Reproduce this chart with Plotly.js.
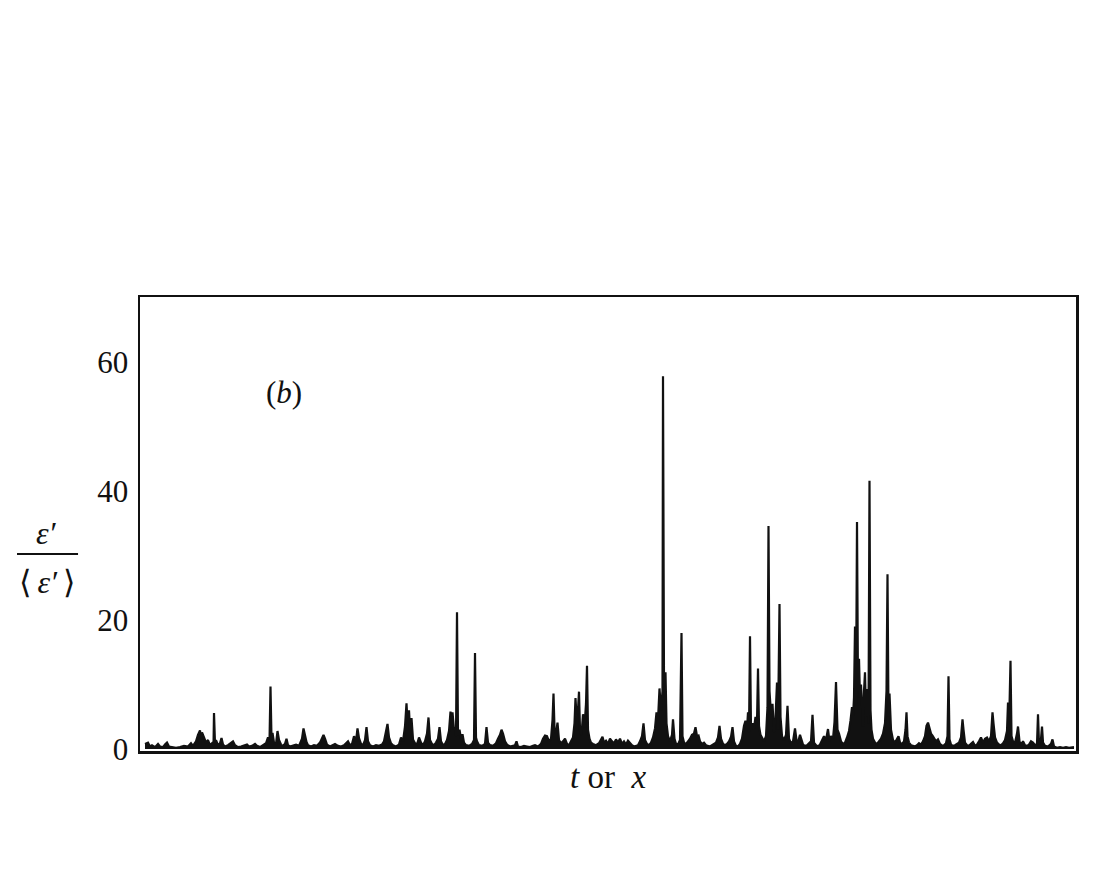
<!DOCTYPE html>
<html>
<head>
<meta charset="utf-8">
<script src="https://cdn.plot.ly/plotly-3.0.1.min.js"></script>
<style>html,body{margin:0;padding:0;background:#fff;}</style>
</head>
<body>
<div id="chart" style="width:1099px;height:880px;"></div>
<script>
// Position along the record (arbitrary units of t or x)
const tPos = [
145,148,150,152,155,158,160,163,165,167,169,172,176,180,184,188,191,193,196,198,200,201,202,204,206,208,210,212,213.5,214,215,216,218,220,221.5,223,225,228,231,233,235,238,241,244,247,249,252,255,257,260,263,266,268,269.5,270.5,271.5,272.5,274,276,277.5,279,281,283,285,286.5,288,290,293,296,299,
300,302,303.5,305,306.5,308,311,314,317,320,322,323.5,325,327,330,333,335,338,341,344,346,348,350,352,354,356,357.5,359,361,363,365,366.5,368,370,373,376,379,382,384,386,387.5,389,391,393,396,399,401,403,405,406.5,407.5,409,410,411.5,413,415,417,419,421,423,425,427,428.5,430,432,434,436,438,439.5,441,443,445,447,449,450.5,451.5,452.5,454,455,
456,457,458,459.5,461,462.5,464,466,469,472,474,475,476,477,479,482,485,486.5,488,490,493,496,498,500,501.5,503,505,507,510,513,515,516.5,518,521,524,527,530,533,535,538,541,543,545,547,549,551,552.5,553.5,554.5,556,557.5,559,561,563,565,567,569,571,573,574.5,575.5,576.5,578,579,580,581.5,583,584.5,586,587,588,589.5,591,593,596,599,601,602.5,604,
606,608,610,612,614,616,618,620,622,624,626,628,630,632,634,636,638,640,642,643.5,645,647,649,651,653,655,656.5,658,659.5,661,662.5,663,664,665.5,666.5,668,670,672,673,674.5,676,678,680,681.5,682.5,684,686,688,690,692,694,695.5,697,698.5,700,702,704,706,708,710,712,714,716,718,719.5,721,723,725,727,729,731,732.5,734,736,738,740,742,744,745.5,747,748,749,750,751,752.5,754,755.5,757,758,759,
760.5,762,764,766,767.5,768.5,769.5,771,772.5,774,775.5,777,778,779.5,780.5,782,784,786,787.5,789,791,793,795,796.5,798,800,801.5,803,805,807,809,811,812.5,814,816,818,820,822,824,826,828,829.5,831,833,834.5,836,837.5,839,841,843,845,847,849,850.5,852,853,854,855,856,857,858,859,860,861,862,863,864,865,866,867.5,868.5,869.5,870.5,871.5,873,875,877,879,881,883,885,886.5,887.5,888.5,889.5,891,893,895,897,898.5,900,902,904,905.5,906.5,907.5,909,911,913,
915,917,919,921,923,925,926.5,928,929.5,931,932.5,934,936,938,940,942,944,946,947.5,948.5,949.5,951,953,955,957,959,961,962.5,963.5,965,967,969,971,973,975,977,979,981,983,985,987,989,991,992.5,993.5,995,997,999,1001,1003,1005,1007,1008,1009,1010.5,1011.5,1013,1015,1017,1018,1019.5,1021,1023,1025,1027,1029,1031,1033,1035,1037,1038,1039,1041,1042,1043,1045,1048,1051,1052.5,1054,1057,1060,1063,1066,1069,1072,1074
];

// Normalised dissipation epsilon' / <epsilon'>
const epsRatio = [
0.8,1.0,0.4,0.6,0.3,0.8,0.4,0.3,0.7,1.0,0.4,0.3,0.2,0.3,0.5,0.4,0.9,0.5,1.2,2.2,2.9,1.6,2.6,1.8,1.0,1.4,0.6,0.9,0.5,5.6,0.8,1.4,0.6,0.9,1.7,0.7,0.4,0.6,0.9,1.2,0.6,0.3,0.4,0.6,0.7,0.4,0.5,0.8,0.5,0.3,0.6,0.9,1.8,1.2,9.7,1.5,2.5,1.0,0.8,2.8,1.4,0.7,0.5,0.8,1.6,0.6,0.4,0.5,0.7,0.5,
0.9,1.6,3.2,2.0,1.1,0.6,0.4,0.6,0.5,1.0,1.8,2.2,1.6,0.7,0.4,0.6,0.8,0.5,0.4,0.6,0.9,1.2,0.6,0.8,2.0,1.2,3.2,1.7,0.8,0.6,1.4,3.4,1.2,0.6,0.4,0.6,0.5,0.7,1.2,2.5,3.9,1.8,0.9,0.6,0.4,0.7,1.8,1.2,3.5,7.1,4.2,6.0,3.0,4.8,1.5,0.9,0.7,1.8,1.0,0.6,1.2,2.4,4.9,1.4,0.8,0.6,1.0,1.6,3.4,1.2,0.6,0.8,1.4,2.8,5.8,3.4,5.7,3.0,3.4,
2.0,21.2,2.2,3.0,1.6,2.3,1.0,0.6,0.5,0.8,1.4,14.9,1.8,1.2,0.6,0.5,0.8,3.4,1.0,0.6,0.5,0.9,1.6,2.2,3.0,2.4,1.2,0.7,0.4,0.5,0.6,1.2,0.4,0.3,0.5,0.4,0.3,0.5,0.6,0.4,0.8,1.6,2.1,2.0,1.2,1.6,4.5,8.6,3.2,2.4,4.1,1.4,0.9,1.2,1.6,0.8,0.6,1.2,1.8,4.0,7.9,5.2,6.0,8.9,3.0,2.2,5.4,3.4,7.0,12.9,3.0,1.6,1.0,0.8,0.6,0.9,1.4,1.9,1.0,
1.3,0.8,1.6,1.2,0.9,1.5,1.0,1.6,0.8,1.2,0.7,1.3,0.9,0.6,0.4,0.5,0.6,1.2,2.0,4.0,1.4,0.8,0.6,1.0,1.8,3.2,5.7,4.5,9.4,6.0,9.0,57.8,10.2,11.9,4.0,2.0,1.2,2.2,4.6,1.6,0.8,0.7,1.4,18.0,2.0,1.0,0.8,1.2,1.6,2.2,2.4,3.4,2.0,2.1,1.2,0.8,1.0,0.6,0.5,0.4,0.6,0.8,1.0,1.8,3.6,1.6,0.8,0.6,0.8,1.2,1.9,3.4,1.2,0.5,0.4,0.8,1.6,3.6,4.4,3.0,5.7,2.6,17.5,3.0,4.0,3.2,5.0,4.2,12.5,3.6,
2.2,1.8,1.2,2.0,6.5,34.6,9.0,5.4,7.0,2.6,4.8,10.3,3.0,22.5,5.0,2.0,1.4,2.2,6.7,1.6,0.9,1.2,3.2,1.4,1.0,2.2,1.4,0.7,0.5,0.6,0.9,1.2,5.3,1.0,0.6,0.4,0.7,1.4,2.0,1.4,3.1,1.2,2.0,1.6,4.2,10.4,3.0,2.4,1.2,0.8,1.0,1.8,2.8,4.4,6.5,5.0,8.0,19.0,7.0,35.2,9.0,14.0,8.0,10.0,6.0,3.5,9.0,11.9,5.0,9.3,4.0,41.6,6.0,3.0,1.6,1.0,0.8,1.2,1.6,2.4,4.0,9.0,27.1,5.0,8.6,3.0,1.4,1.0,1.6,2.0,1.0,0.8,1.2,3.0,5.7,2.0,1.0,0.6,0.5,
0.4,0.6,0.9,0.7,1.2,2.0,3.6,4.1,3.0,2.4,2.1,1.6,1.2,1.5,0.8,0.5,0.6,0.9,2.0,11.3,1.5,0.7,0.5,0.6,0.8,1.0,1.8,4.6,3.0,1.0,0.6,0.5,0.8,1.1,0.5,0.7,1.2,1.8,1.0,1.6,1.8,1.2,2.0,5.7,4.0,1.8,1.0,0.7,0.6,0.9,1.4,2.8,7.2,3.0,13.7,2.0,1.2,1.0,2.4,3.5,1.2,0.6,1.2,0.6,0.5,0.7,1.2,1.0,0.6,0.8,5.4,0.8,1.6,3.5,1.0,0.5,0.4,0.8,1.5,0.4,0.2,0.3,0.2,0.3,0.2,0.3,0.3
];

const yTickVals = [0, 20, 40, 60];
const yTickText = ['0', '20', '40', '60'];

const serif = '"Liberation Serif", "Times New Roman", Times, serif';

const trace = {
  x: tPos,
  y: epsRatio,
  type: 'scatter',
  mode: 'lines',
  line: {color: '#111', width: 2.2},
  fill: 'tozeroy',
  fillcolor: '#111',
  hoverinfo: 'skip'
};

const layout = {
  width: 1099,
  height: 880,
  paper_bgcolor: '#fff',
  plot_bgcolor: '#fff',
  margin: {l: 140, r: 23, t: 297, b: 129, pad: 0},
  showlegend: false,
  font: {family: serif, color: '#111'},
  xaxis: {
    range: [140, 1076],
    showline: true, mirror: true, linecolor: '#111', linewidth: 2.5,
    showgrid: false, zeroline: false, ticks: '', showticklabels: false
  },
  yaxis: {
    range: [-0.3, 70.1],
    showline: true, mirror: true, linecolor: '#111', linewidth: 2.5,
    showgrid: false, zeroline: false, ticks: '',
    tickvals: yTickVals, ticktext: yTickText,
    ticklabelstandoff: 3,
    tickfont: {family: serif, size: 31, color: '#111'}
  },
  annotations: [
    {xref: 'paper', yref: 'paper', x: 0.1538, y: 0.7907, xanchor: 'center', yanchor: 'middle',
     text: '(<i>b</i>)', showarrow: false, font: {family: serif, size: 31, color: '#111'}},
    {xref: 'paper', yref: 'paper', x: 0.5, y: -0.0573, xanchor: 'center', yanchor: 'middle',
     text: '<i>t</i> or&nbsp; <i>x</i>', showarrow: false, font: {family: serif, size: 33, color: '#111'}},
    {xref: 'paper', yref: 'paper', x: -0.0994, y: 0.480, xanchor: 'center', yanchor: 'middle',
     text: '<i>ε′</i>', showarrow: false, font: {family: serif, size: 32, color: '#111'}},
    {xref: 'paper', yref: 'paper', x: -0.0994, y: 0.372, xanchor: 'center', yanchor: 'middle',
     text: '⟨&#8201;<i>ε′</i>&#8201;⟩', showarrow: false, font: {family: serif, size: 32, color: '#111'}}
  ],
  shapes: [
    {type: 'line', xref: 'paper', yref: 'paper', x0: -0.1314, x1: -0.0662, y0: 0.4339, y1: 0.4339,
     line: {color: '#111', width: 2}}
  ]
};

Plotly.newPlot('chart', [trace], layout, {displayModeBar: false, staticPlot: true});
</script>
</body>
</html>
